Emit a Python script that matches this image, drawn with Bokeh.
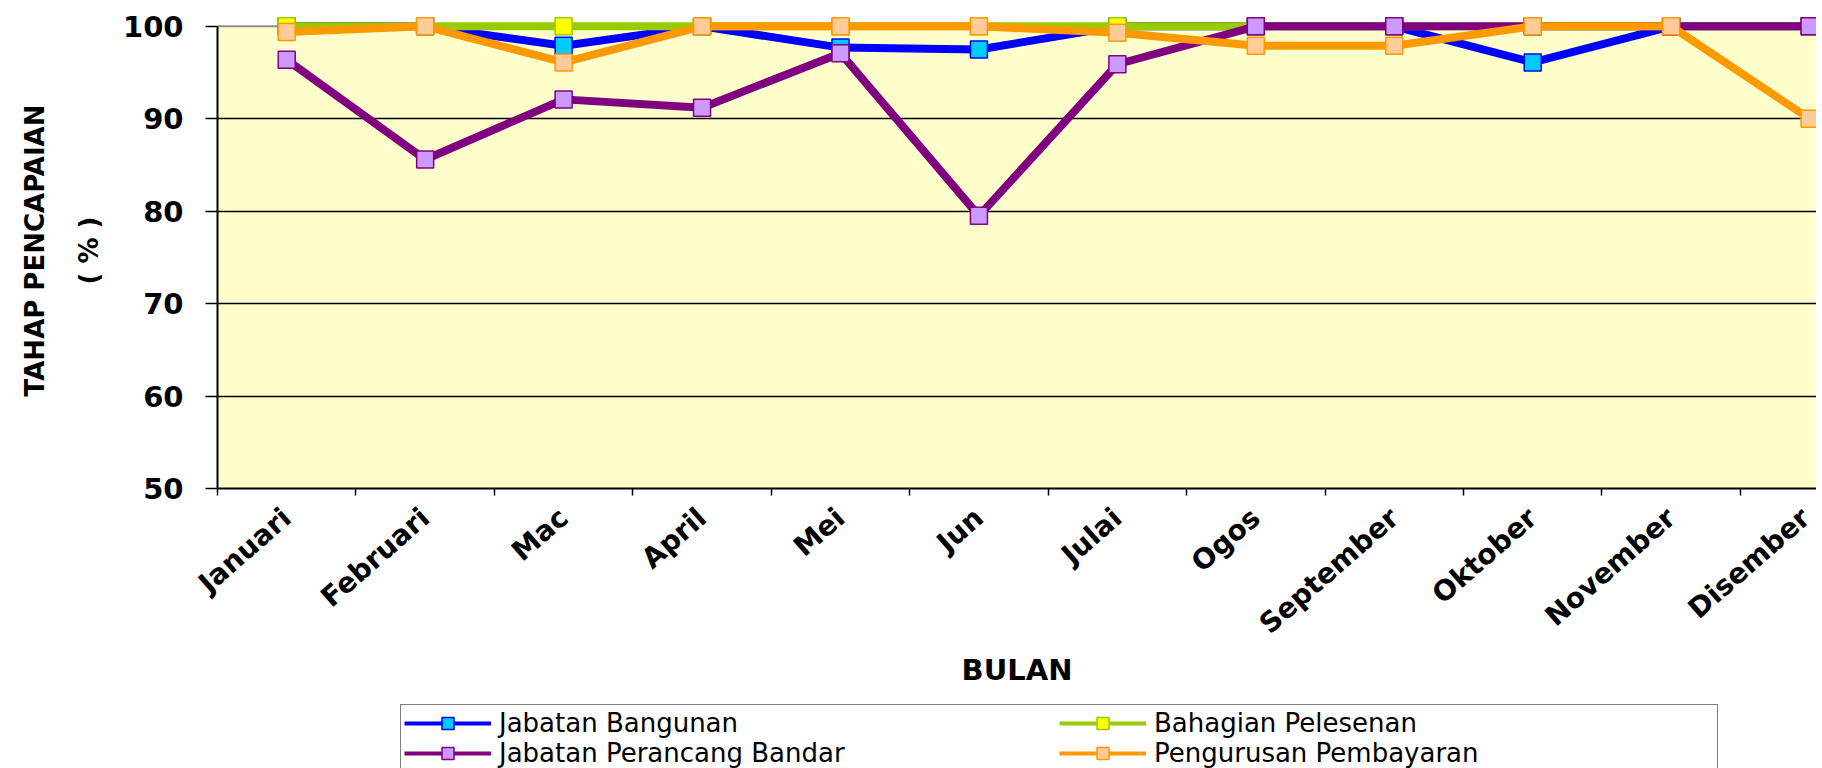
from bokeh.plotting import figure
from bokeh.layouts import column
from bokeh.models import Range1d, FixedTicker, BoxAnnotation, Span, Legend, LegendItem
from bokeh.embed import file_html
from bokeh.resources import INLINE

# ---- data ----
months = ["Januari", "Februari", "Mac", "April", "Mei", "Jun", "Julai",
          "Ogos", "September", "Oktober", "November", "Disember"]
jabatan_bangunan = [100, 100, 97.9, 100, 97.7, 97.5, 100, 100, 100, 96.1, 100, 100]
bahagian_pelesenan = [100, 100, 100, 100, 100, 100, 100, 100, 100, 100, 100, 100]
jabatan_perancang_bandar = [96.4, 85.6, 92.1, 91.2, 97.1, 79.5, 95.9, 100, 100, 100, 100, 100]
pengurusan_pembayaran = [99.4, 100, 96.1, 100, 100, 100, 99.3, 97.9, 97.9, 100, 100, 90.0]
series_names = ["Jabatan Bangunan", "Bahagian Pelesenan",
                "Jabatan Perancang Bandar", "Pengurusan Pembayaran"]
y_ticks = [50, 60, 70, 80, 90, 100]

x = list(range(len(months)))

FONT = "DejaVu Sans"

p = figure(width=1816, height=702,
           x_range=Range1d(-0.5, 11.05), y_range=Range1d(50, 101.5),
           output_backend="svg", toolbar_location=None,
           min_border_left=217, min_border_top=12, min_border_right=0,
           min_border_bottom=214,
           background_fill_color="white", border_fill_color="white",
           outline_line_color=None)

# plot area fill and top border
p.add_layout(BoxAnnotation(bottom=y_ticks[0], top=y_ticks[-1], fill_color="#FFFFCC",
                           fill_alpha=1, line_color=None, level="image"))
p.add_layout(Span(location=y_ticks[-1], dimension="width", line_color="#8c8c8c",
                  line_width=2, level="underlay"))

# grids
p.xgrid.visible = False
p.ygrid.ticker = FixedTicker(ticks=y_ticks[1:-1])
p.ygrid.grid_line_color = "black"
p.ygrid.grid_line_width = 1.5

# y axis
p.yaxis.ticker = FixedTicker(ticks=y_ticks)
p.yaxis.bounds = (y_ticks[0], y_ticks[-1])
p.yaxis.axis_line_color = "black"
p.yaxis.axis_line_width = 2
p.yaxis.major_tick_out = 12
p.yaxis.major_tick_in = 0
p.yaxis.major_tick_line_color = "black"
p.yaxis.major_tick_line_width = 1.5
p.yaxis.minor_tick_line_color = None
p.yaxis.major_label_standoff = 22
p.yaxis.major_label_text_font = FONT
p.yaxis.major_label_text_font_style = "bold"
p.yaxis.major_label_text_font_size = "29px"
p.yaxis.major_label_text_color = "black"
p.yaxis.axis_label = "TAHAP PENCAPAIAN\n( % )"
p.yaxis.axis_label_text_font = FONT
p.yaxis.axis_label_text_font_style = "bold"
p.yaxis.axis_label_text_font_size = "26px"
p.yaxis.axis_label_text_line_height = 1.8
p.yaxis.axis_label_text_color = "black"
p.yaxis.axis_label_standoff = 16

# x axis (ticks between categories, labels at centres)
p.xaxis.ticker = FixedTicker(ticks=x, minor_ticks=[i - 0.5 for i in range(len(months) + 1)])
p.xaxis.major_label_overrides = {i: m for i, m in enumerate(months)}
p.xaxis.axis_line_color = "black"
p.xaxis.axis_line_width = 2
p.xaxis.major_tick_line_color = None
p.xaxis.major_tick_out = 0
p.xaxis.major_tick_in = 0
p.xaxis.minor_tick_line_color = "black"
p.xaxis.minor_tick_line_width = 1.5
p.xaxis.minor_tick_out = 7
p.xaxis.minor_tick_in = 0
p.xaxis.major_label_orientation = 0.72
p.xaxis.major_label_standoff = 18
p.xaxis.major_label_text_font = FONT
p.xaxis.major_label_text_font_style = "bold"
p.xaxis.major_label_text_font_size = "28px"
p.xaxis.major_label_text_color = "black"
p.xaxis.axis_label = "BULAN"
p.xaxis.axis_label_text_font = FONT
p.xaxis.axis_label_text_font_style = "bold"
p.xaxis.axis_label_text_font_size = "29px"
p.xaxis.axis_label_text_color = "black"
p.xaxis.axis_label_standoff = -3

# series
styles = [
    (jabatan_bangunan, "#0000FF", "#00CCFF", "#0000FF"),
    (bahagian_pelesenan, "#99CC00", "#FFFF00", "#99CC00"),
    (jabatan_perancang_bandar, "#800080", "#CC99FF", "#800080"),
    (pengurusan_pembayaran, "#FF9900", "#FFCC99", "#FF9900"),
]
for name, (vals, lc, mf, ml) in zip(series_names, styles):
    p.line(x, vals, line_color=lc, line_width=8)
    p.scatter(x, vals, marker="square", size=17, fill_color=mf,
              line_color=ml, line_width=1.5)

# ---- legend strip below the chart ----
lg = figure(width=1816, height=66, output_backend="svg", toolbar_location=None,
            x_axis_type=None, y_axis_type=None, min_border=0,
            x_range=Range1d(-0.5, 11.05), y_range=Range1d(50, 101.5),
            background_fill_color="white", border_fill_color="white",
            outline_line_color=None)
items = {}
for name, (vals, lc, mf, ml) in zip(series_names, styles):
    pl = lg.line(x, vals, line_color=lc, line_width=4, visible=False)
    ps = lg.scatter(x, vals, marker="square", size=17, fill_color=mf,
                    line_color=ml, line_width=1.5, visible=False)
    items[name] = LegendItem(label=name, renderers=[pl, ps])

order = ["Jabatan Bangunan", "Jabatan Perancang Bandar",
         "Bahagian Pelesenan", "Pengurusan Pembayaran"]
legend = Legend(items=[items[n] for n in order], ncols=2, orientation="vertical",
                location=(183, -4), border_line_color="black", border_line_width=1.5,
                background_fill_color="white", background_fill_alpha=1,
                label_text_font=FONT, label_text_font_size="26px",
                label_text_color="black",
                glyph_width=87, glyph_height=30, label_height=30,
                label_standoff=8, label_width=560, spacing=0, padding=3,
                margin=0)
lg.add_layout(legend, "center")

layout = column(p, lg, spacing=0)
open("out.html", "w").write(file_html(layout, INLINE))
